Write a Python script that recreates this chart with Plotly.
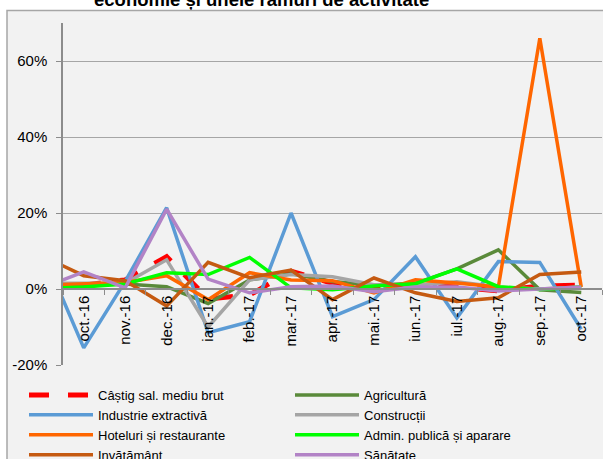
import plotly.graph_objects as go

# Categories (first one, sep.-16, lies just outside the visible range; its segment is clipped at the axis)
months = ["sep.-16", "oct.-16", "nov.-16", "dec.-16", "ian.-17", "feb.-17", "mar.-17", "apr.-17",
          "mai.-17", "iun.-17", "iul.-17", "aug.-17", "sep.-17", "oct.-17"]

castig = [2.0, 1.0, 2.4, 8.5, -2.6, -1.6, 4.7, 1.5, 0.3, 1.0, 0.5, -0.5, 0.8, 1.0]
agricultura = [1.0, 1.0, 1.3, 0.6, -3.8, 2.4, 4.0, 2.0, 1.0, 1.5, 5.3, 10.3, -0.2, -0.9]
industrie = [10.0, -15.5, 2.0, 21.4, -11.5, -8.6, 20.0, -7.3, -2.8, 8.5, -7.6, 7.2, 7.0, -10.6]
constructii = [1.5, 1.5, 1.5, 7.7, -10.0, 2.4, 3.8, 3.2, 1.1, 1.0, 1.9, 0.5, 0.0, 0.5]
hoteluri = [1.0, 1.3, 1.7, 3.5, -2.8, 4.3, 2.4, 2.2, -1.0, 2.4, 1.6, 0.5, 66.0, 0.5]
admin = [0.1, 0.5, 1.3, 4.3, 3.8, 8.3, 0.3, -0.2, 0.8, 1.4, 5.3, 0.6, -0.1, 0.5]
invatamant = [8.7, 3.5, 2.2, -4.5, 7.0, 3.0, 5.0, -2.8, 2.9, -1.0, -3.3, -2.3, 3.8, 4.5]
sanatate = [0.3, 4.5, 0.3, 21.0, 2.6, -1.0, 0.6, 0.8, -0.7, 0.5, 0.5, -0.5, 0.0, 0.5]

y_tickvals = [-20, 0, 20, 40, 60]
y_ticktext = ["-20%", "0%", "20%", "40%", "60%"]

series = [
    ("Câștig sal. mediu brut", castig, "#ff0000", 5, "20px,19px"),
    ("Agricultură", agricultura, "#5a8a3a", 3.5, "solid"),
    ("Industrie extractivă", industrie, "#5b9bd5", 3.5, "solid"),
    ("Construcții", constructii, "#a5a5a5", 3.5, "solid"),
    ("Hoteluri și restaurante", hoteluri, "#ff6600", 3.5, "solid"),
    ("Admin. publică și aparare", admin, "#00ff00", 3.5, "solid"),
    ("Invățământ", invatamant, "#c55a11", 3.5, "solid"),
    ("Sănătate", sanatate, "#b283c6", 3.5, "solid"),
]

FONT = "Arial, Liberation Sans, sans-serif"

fig = go.Figure()
for name, vals, color, width, dash in series:
    fig.add_trace(go.Scatter(
        x=months, y=vals, name=name, mode="lines",
        line=dict(color=color, width=width, dash=dash),
    ))

W, H = 603, 459
ml, mr, mt, mb = 63, 1, 23, 94
pw, ph = W - ml - mr, H - mt - mb
ymin, ymax = -20, 70

def px_x(p):
    return (p - ml) / pw

def px_y(p):
    return (H - mb - p) / ph

fig.update_layout(
    width=W, height=H,
    margin=dict(l=ml, r=mr, t=mt, b=mb, autoexpand=False),
    paper_bgcolor="white",
    plot_bgcolor="rgba(0,0,0,0)",
    font=dict(family=FONT, color="black", size=15),
    showlegend=True,
    legend=dict(
        orientation="h", x=px_x(24), y=px_y(380), xanchor="left", yanchor="top",
        entrywidth=187, entrywidthmode="pixels", itemwidth=64,
        font=dict(size=13, family=FONT), bgcolor="rgba(0,0,0,0)",
        traceorder="normal",
    ),
    xaxis=dict(
        type="category", categoryorder="array", categoryarray=months,
        range=[0.5, 13.5], anchor="free", position=(0 - ymin) / (ymax - ymin),
        showline=True, linecolor="#8c8c8c", linewidth=1.5,
        ticks="outside", tickson="boundaries", ticklen=5, tickcolor="#8c8c8c",
        tickangle=-90, tickfont=dict(size=15), showgrid=False, zeroline=False,
    ),
    yaxis=dict(
        range=[ymin, ymax], tickvals=y_tickvals, ticktext=y_ticktext,
        showline=True, linecolor="#8c8c8c", linewidth=1.5,
        ticks="outside", ticklen=5, tickcolor="#8c8c8c",
        showgrid=True, gridcolor="#a6a6a6", gridwidth=1, zeroline=False,
        tickfont=dict(size=15), ticklabelstandoff=6,
    ),
    shapes=[dict(
        type="rect", xref="paper", yref="paper", layer="below",
        x0=px_x(7), x1=px_x(640), y0=px_y(520), y1=px_y(10.5),
        fillcolor="#f2f2f2", line=dict(color="#a6a6a6", width=1.5),
    )],
    annotations=[dict(
        text="<b>economie și unele ramuri de activitate</b>",
        xref="paper", yref="paper", x=px_x(261), y=px_y(-0.5),
        xanchor="center", yanchor="middle", showarrow=False,
        font=dict(size=18.5, family=FONT, color="black"),
    )],
)

fig.write_html(
    "out.html",
    config={"displayModeBar": False},
    post_script="document.body.style.margin='0px';document.body.style.overflow='hidden';",
)
